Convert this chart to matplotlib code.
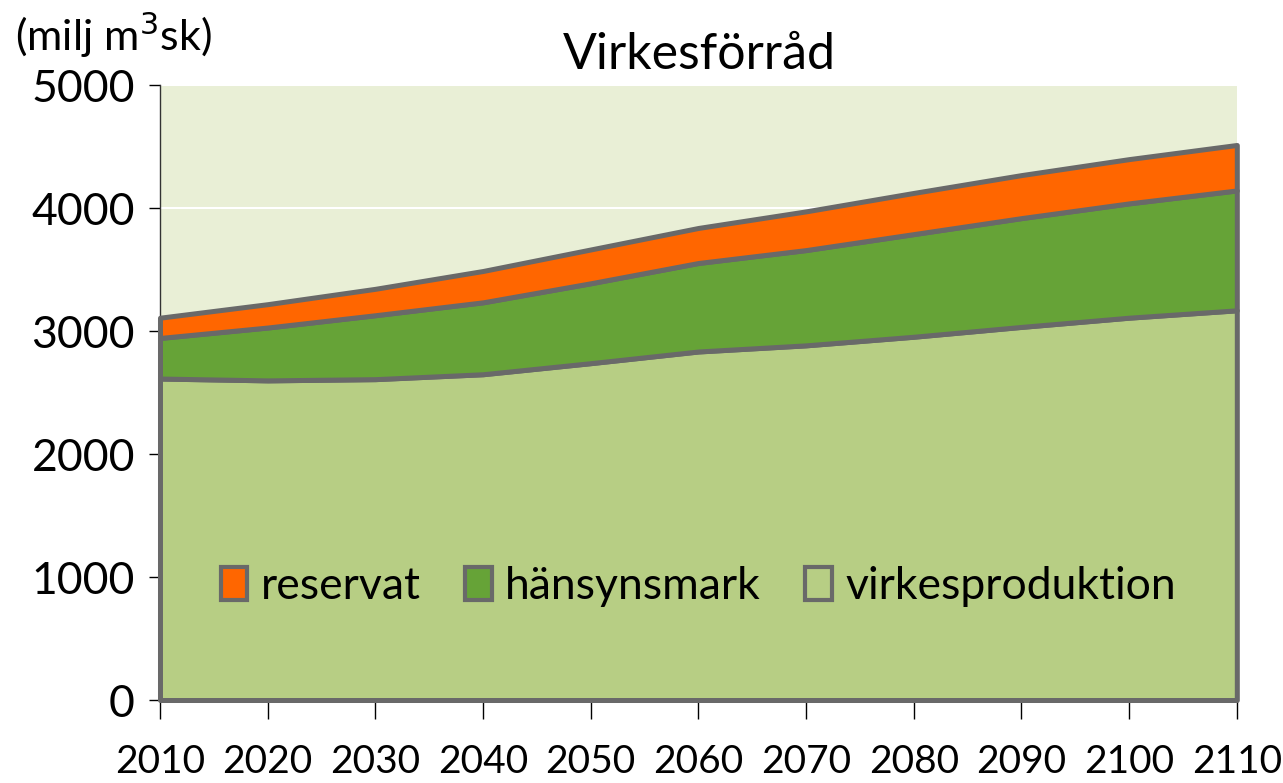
import matplotlib.pyplot as plt
import numpy as np
from matplotlib.patches import Patch

plt.rcParams['font.family'] = ['Lato', 'DejaVu Sans']

years = [2010, 2020, 2030, 2040, 2050, 2060, 2070, 2080, 2090, 2100, 2110]
virkesproduktion = [2615, 2600, 2610, 2650, 2740, 2835, 2885, 2955, 3035, 3110, 3170]
hansynsmark = [330, 430, 520, 585, 650, 720, 775, 835, 885, 930, 975]
reservat = [165, 190, 215, 255, 275, 285, 315, 335, 350, 360, 370]

labels = ['virkesproduktion', 'hänsynsmark', 'reservat']
colors = ['#B7CE84', '#66A337', '#FF6600']
edge = '#696969'

fig = plt.figure(figsize=(12.83, 7.83), dpi=100)
ax = fig.add_axes([0.1247, 0.106, 0.8393, 0.785])
ax.set_facecolor('#E9EFD6')

polys = ax.stackplot(years, virkesproduktion, hansynsmark, reservat,
                     colors=colors, edgecolor=edge, linewidth=3.6, zorder=3)
for p in polys:
    p.set_clip_on(False)

ax.set_xlim(2010, 2110)
ax.set_ylim(0, 5000)
ax.set_xticks(years)
ax.set_yticks(np.arange(0, 5001, 1000))
ax.yaxis.grid(True, color='white', linewidth=1.5, zorder=1)
ax.set_axisbelow(True)

for s in ['top', 'right']:
    ax.spines[s].set_visible(False)
for s in ['left', 'bottom']:
    ax.spines[s].set_color('#333333')
    ax.spines[s].set_linewidth(1)

ax.tick_params(axis='x', direction='out', length=14, width=1, pad=18, labelsize=28)
ax.tick_params(axis='y', direction='out', length=8, width=1, pad=10, labelsize=32)

fig.text(0.545, 0.93, 'Virkesförråd', fontsize=36, ha='center', va='center')
fig.text(0.012, 0.955, '(milj m$^3$sk)', fontsize=31, ha='left', va='center')

handles = [Patch(facecolor=colors[i], edgecolor=edge, linewidth=3)
           for i in [2, 1, 0]]
ax.legend(handles, [labels[i] for i in [2, 1, 0]], loc='center',
          bbox_to_anchor=(0.5, 0.185), ncol=3, frameon=False, fontsize=32,
          handlelength=0.6, handleheight=0.75, handletextpad=0.3, columnspacing=1.0)

plt.savefig('out.png')
